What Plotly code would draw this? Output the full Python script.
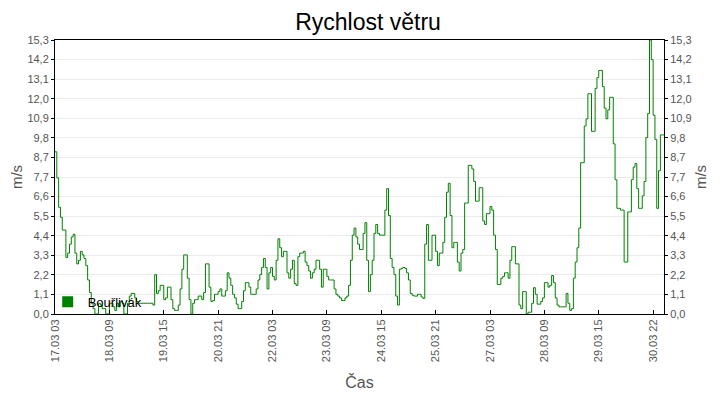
import plotly.graph_objects as go

# Wind speed (m/s), hourly, starting 17.03 03:00
speed = [
    9.06, 7.6, 5.96, 5.4, 4.69, 4.69, 3.16, 3.4, 3.9, 4.3,
    4.45, 3.4, 2.8, 3.0, 3.5, 3.3, 3.1, 2.7, 1.9, 1.2,
    0.6, 0.3, 0.0, 0.0, 0.6, 0.5, 0.3, 0.3, 0.0, 0.0,
    0.6, 0.6, 0.4, 0.2, 0.6, 0.4, 0.7, 0.6, 0.0, 0.0,
    0.6, 1.0, 1.15, 1.15, 0.9, 0.7, 0.6, 0.6, 0.6, 0.6,
    0.6, 0.6, 0.6, 0.6, 0.5, 2.2, 1.15, 1.3, 1.6, 1.6,
    0.8, 0.9, 1.5, 1.5, 0.8, 0.3, 0.2, 0.2, 0.5, 1.4,
    2.5, 3.3, 3.3, 2.0, 0.8, 0.0, 0.6, 0.8, 0.8, 1.0,
    1.0, 0.8, 1.2, 2.8, 2.8, 1.5, 0.7, 0.75, 1.1, 1.1,
    1.25, 1.4, 1.0, 1.0, 1.3, 2.3, 2.0, 1.6, 1.1, 0.9,
    0.55, 0.3, 0.3, 0.7, 1.3, 1.75, 1.75, 1.5, 1.1, 1.1,
    1.1, 1.4, 1.9, 2.2, 2.6, 3.1, 2.6, 1.4, 2.3, 2.6,
    2.1, 1.9, 3.0, 4.2, 3.7, 3.2, 3.5, 3.5, 2.3, 2.0,
    2.5, 3.0, 1.7, 1.6, 3.2, 3.4, 3.4, 3.5, 2.9, 2.7,
    2.4, 2.0, 2.3, 2.5, 3.0, 3.0, 2.5, 1.5, 2.5, 2.5,
    2.1, 1.9, 1.9, 1.9, 1.4, 1.1, 1.0, 0.9, 0.75, 0.75,
    0.9, 1.0, 1.6, 3.0, 4.4, 4.8, 4.3, 3.9, 3.6, 3.6,
    4.5, 5.1, 3.0, 1.25, 2.2, 3.0, 4.5, 5.0, 4.5, 4.4,
    4.4, 4.4, 5.8, 7.0, 5.5, 3.1, 2.6, 2.2, 1.0, 0.5,
    2.5, 2.55, 2.6, 2.55, 2.3, 1.9, 1.15, 1.05, 1.0, 1.0,
    1.1, 1.1, 0.95, 0.87, 3.9, 5.0, 3.0, 3.0, 4.4, 4.4,
    3.5, 2.7, 3.4, 3.4, 4.0, 5.4, 6.8, 7.3, 5.5, 3.7,
    4.0, 4.0, 2.9, 2.4, 3.4, 3.6, 6.2, 6.2, 8.3, 8.3,
    8.1, 7.4, 6.3, 6.3, 7.05, 7.05, 5.2, 5.0, 5.6, 5.6,
    6.0, 5.8, 4.4, 3.6, 1.65, 1.65, 2.0, 2.1, 2.3, 2.3,
    2.0, 3.0, 3.76, 3.76, 2.8, 2.8, 0.5, 0.3, 1.25, 1.25,
    0.0, 0.1, 0.1, 0.6, 1.47, 1.1, 0.55, 0.55, 0.7, 0.9,
    1.75, 1.75, 1.5, 1.6, 2.15, 1.75, 0.9, 0.5, 0.4, 0.4,
    0.4, 0.4, 1.15, 0.6, 0.2, 0.3, 2.0, 2.9, 3.7, 4.8,
    8.45, 8.45, 10.5, 10.9, 12.3, 12.3, 10.2, 10.2, 12.6, 13.2,
    13.6, 13.6, 12.7, 11.5, 10.9, 11.4, 12.1, 12.1, 9.5, 7.5,
    5.9, 5.9, 5.8, 5.8, 2.9, 2.9, 5.7, 5.7, 7.5, 8.2,
    8.4, 7.0, 5.9, 5.9, 6.6, 7.4, 9.85, 11.2, 15.3, 14.2,
    11.1, 9.75, 5.9, 8.0, 10.0, 10.0, 10.0,
]
hour_index = list(range(len(speed)))

x_tick_index = [0, 30, 60, 90, 120, 150, 180, 210, 240, 270, 300, 330]
x_tick_labels = ["17.03 03", "18.03 09", "19.03 15", "20.03 21", "22.03 03", "23.03 09",
                 "24.03 15", "25.03 21", "27.03 03", "28.03 09", "29.03 15", "30.03 22"]

y_max = 15.3
y_tick_labels = ["0,0", "1,1", "2,2", "3,3", "4,4", "5,5", "6,6", "7,7",
                 "8,7", "9,8", "10,9", "12,0", "13,1", "14,2", "15,3"]
y_tick_vals = [k * y_max / (len(y_tick_labels) - 1) for k in range(len(y_tick_labels))]

series_name = "Bouřlivák"
GREEN = "#008000"
FONT = "Liberation Sans, Arial, sans-serif"
GREY = "#555555"

fig = go.Figure()
fig.add_trace(go.Scatter(
    x=hour_index, y=speed, mode="lines", line=dict(color=GREEN, width=1, shape="hv"),
    showlegend=False, hoverinfo="skip",
))
fig.add_trace(go.Scatter(
    x=[None], y=[None], mode="markers", name=series_name,
    marker=dict(symbol="square", size=11, color=GREEN), yaxis="y2",
))

axis_common = dict(
    range=[0, y_max], tickmode="array", tickvals=y_tick_vals, ticktext=y_tick_labels,
    ticks="outside", ticklen=3, tickcolor="black",
    showline=True, linecolor="black", linewidth=1, zeroline=False, automargin=False,
    tickfont=dict(family=FONT, size=11, color=GREY),
    title=dict(text="m/s", font=dict(family=FONT, size=15, color=GREY), standoff=4),
)

# page body adds an 8px offset; margins compensate so the plot sits where the reference has it
fig.update_layout(
    width=720, height=400,
    margin=dict(l=47, r=64, t=32, b=94),
    paper_bgcolor="white", plot_bgcolor="white",
    font=dict(family=FONT, color=GREY),
    title=dict(text="Rychlost větru", x=0.5, xanchor="center", y=0.965, yanchor="middle",
               font=dict(family=FONT, size=23, color="black")),
    xaxis=dict(
        range=[0, len(speed) - 1], tickmode="array", tickvals=x_tick_index, ticktext=x_tick_labels,
        tickangle=-90, ticks="inside", ticklen=4, tickcolor="black",
        showline=True, linecolor="black", linewidth=1, mirror=True,
        showgrid=False, zeroline=False, automargin=False,
        tickfont=dict(family=FONT, size=11, color=GREY),
        title=dict(text="Čas", font=dict(family=FONT, size=16, color=GREY)),
    ),
    yaxis=dict(**axis_common, showgrid=True, gridcolor="#ebebeb", gridwidth=1, mirror=True),
    yaxis2=dict(**axis_common, overlaying="y", side="right", showgrid=False),
    legend=dict(x=-0.012, y=-0.01, xanchor="left", yanchor="bottom", bgcolor="rgba(0,0,0,0)",
                font=dict(family=FONT, size=13, color="black"), borderwidth=0),
    showlegend=True,
)

fig.write_html("out.html")
